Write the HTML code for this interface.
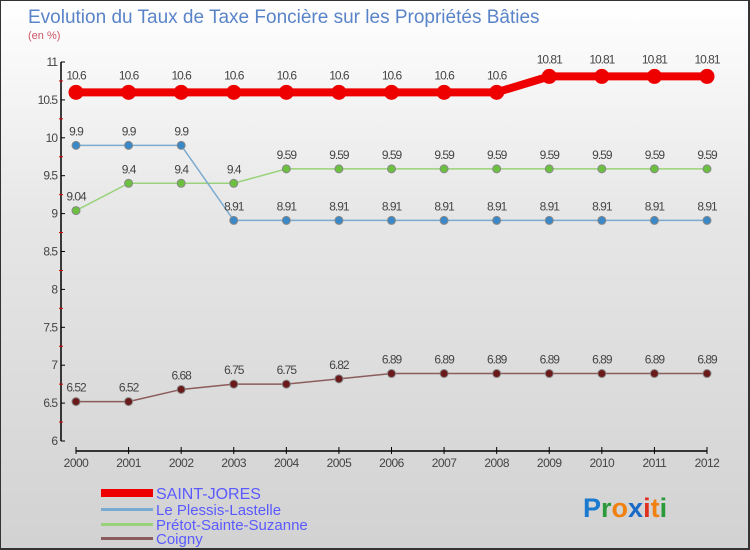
<!DOCTYPE html>
<html><head><meta charset="utf-8"><style>
body{margin:0;}
#c{position:relative;width:750px;height:550px;box-sizing:border-box;border:1px solid #333;border-right-width:2px;border-bottom-width:2px;background:linear-gradient(#ffffff,#e6e6e6 40%,#d2d2d2);font-family:"Liberation Sans",sans-serif;overflow:hidden}
</style></head><body>
<div id="c">
<svg id="s" width="750" height="550" xmlns="http://www.w3.org/2000/svg" style="position:absolute;left:0;top:0">
<text x="27" y="22" font-size="19" fill="#5a84c8">Evolution du Taux de Taxe Foncière sur les Propriétés Bâties</text>
<text x="27" y="38" font-size="11" fill="#cc5566">(en %)</text>
<g id="axes"></g><g id="series"></g>
<g>
<rect x="100" y="488" width="52" height="8" fill="#e00"/>
<rect x="100" y="507" width="52" height="3" fill="#7aaad0"/>
<rect x="100" y="522" width="52" height="3" fill="#99d27a"/>
<rect x="100" y="536" width="52" height="3" fill="#8b5c5c"/>
<text x="155" y="498" font-size="16" fill="#5a5aff">SAINT-JORES</text>
<text x="155" y="514" font-size="15" fill="#5a5aff">Le Plessis-Lastelle</text>
<text x="155" y="529" font-size="15" fill="#5a5aff">Prétot-Sainte-Suzanne</text>
<text x="155" y="543" font-size="15" fill="#5a5aff">Coigny</text>
</g>
<text x="582" y="516" font-size="27" font-weight="bold"><tspan fill="#1a7ad0">P</tspan><tspan fill="#2a9a3a">r</tspan><tspan fill="#f08010">o</tspan><tspan fill="#1a6ac8">x</tspan><tspan fill="#e03020">i</tspan><tspan fill="#f08010">t</tspan><tspan fill="#2a9a3a">i</tspan></text>
</svg>
</div>
<script>
const years=[2000,2001,2002,2003,2004,2005,2006,2007,2008,2009,2010,2011,2012];
const yTicks=[6,6.5,7,7.5,8,8.5,9,9.5,10,10.5,11];
const saintJores=[10.6,10.6,10.6,10.6,10.6,10.6,10.6,10.6,10.6,10.81,10.81,10.81,10.81];
const plessis=[9.9,9.9,9.9,8.91,8.91,8.91,8.91,8.91,8.91,8.91,8.91,8.91,8.91];
const pretot=[9.04,9.4,9.4,9.4,9.59,9.59,9.59,9.59,9.59,9.59,9.59,9.59,9.59];
const coigny=[6.52,6.52,6.68,6.75,6.75,6.82,6.89,6.89,6.89,6.89,6.89,6.89,6.89];
const NS="http://www.w3.org/2000/svg";
const X=i=>75+i*(706-75)/(years.length-1);
const Y=v=>440-(v-6)*(440-61)/5;
function mk(t,a,p){const e=document.createElementNS(NS,t);for(const k in a)e.setAttribute(k,a[k]);p.appendChild(e);return e;}
const ax=document.getElementById('axes');
let l=mk('line',{x1:60,y1:Y(11),x2:60,y2:Y(6),stroke:'#000','stroke-width':1.5},ax);


yTicks.forEach((v,i)=>{
 mk('line',{x1:60,x2:64,y1:Y(v),y2:Y(v),stroke:'#000'},ax);
 if(i<yTicks.length-1) mk('line',{x1:58,x2:62,y1:Y(v+0.25),y2:Y(v+0.25),stroke:'#d00'},ax);
 const t=mk('text',{x:56,y:Y(v)+4,'font-size':12,fill:'#444','text-anchor':'end','letter-spacing':'-1'},ax);
 t.textContent=String(v);
 
 
});
l=mk('line',{x1:75,y1:450,x2:706,y2:450,stroke:'#000','stroke-width':1.5},ax);


years.forEach((y,i)=>{
 mk('line',{x1:X(i),x2:X(i),y1:446,y2:453,stroke:'#000'},ax);
 const t=mk('text',{x:X(i),y:466,'font-size':12,fill:'#444','text-anchor':'middle','letter-spacing':'-0.5'},ax);
 t.textContent=y;
 
 
});
const sg=document.getElementById('series');
function series(vals,name,line,lw,dot,r,dstroke){
 const g=mk('g',{},sg);
 
 
 const p=mk('polyline',{points:vals.map((v,i)=>X(i)+','+Y(v)).join(' '),fill:'none',stroke:line,'stroke-width':lw},g);
 
 
 vals.forEach((v,i)=>{
  const c=mk('circle',{cx:X(i),cy:Y(v),r:r,fill:dot,stroke:dstroke,'stroke-width':1},g);
  
  
  const t=mk('text',{x:X(i),y:Y(v)-r-6,'font-size':12,fill:'#444','text-anchor':'middle','letter-spacing':'-1'},g);
  t.textContent=String(v);
  
  
 });
}
series(coigny,'coigny','#8b5c5c',1.5,'#6a1a1a',4,'#888');
series(pretot,'pretot-sainte-suzanne','#99d27a',1.5,'#6cc040',4,'#888');
series(plessis,'le-plessis-lastelle','#7aaad0',1.5,'#3a88c8',4,'#888');
series(saintJores,'saint-jores','#ee0000',8,'#ee0000',7,'#ee0000');
</script>
</body></html>
